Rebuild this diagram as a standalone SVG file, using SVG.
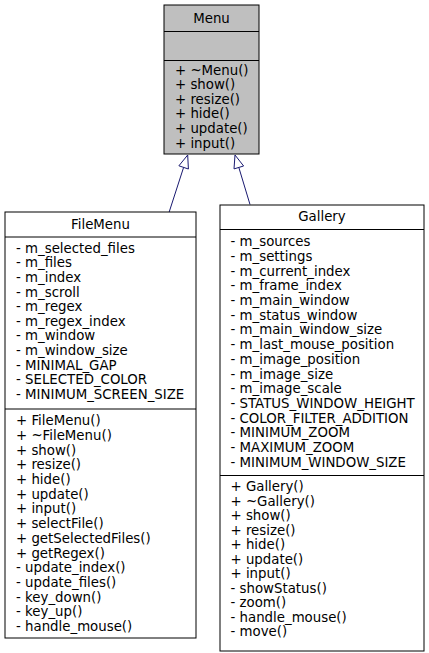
<svg xmlns="http://www.w3.org/2000/svg" width="429" height="653" viewBox="0 0 429 653">
<style>
.box{fill:#ffffff;stroke:#000000;stroke-width:1}
.base{fill:#bfbfbf}
.sep{stroke:#000000;stroke-width:1}
text{font-family:"DejaVu Sans","Liberation Sans",sans-serif;font-size:13.33px;fill:#000000}
.c{text-anchor:middle}
.edge{stroke:#191970;stroke-width:1;fill:none}
.head{stroke:#191970;stroke-width:1;fill:#ffffff}
</style>
<rect width="429" height="653" fill="#ffffff"/>
<g id="connectors">
<path class="edge" d="M169,212.5 L183.6,167.4"/>
<polygon class="head" points="187.7,155 188.4,169 178.9,165.8"/>
<path class="edge" d="M250,204.5 L238.8,167.4"/>
<polygon class="head" points="235,155 243.6,166 234,168.9"/>
</g>
<g id="Menu">
<rect class="box base" x="164" y="5" width="95" height="149"/>
<line class="sep" x1="164" y1="31.5" x2="259" y2="31.5"/>
<line class="sep" x1="164" y1="60.5" x2="259" y2="60.5"/>
<text class="c" x="211.5" y="23">Menu</text>
<text x="175" y="74.5">+ ~Menu()</text>
<text x="175" y="89.1">+ show()</text>
<text x="175" y="103.7">+ resize()</text>
<text x="175" y="118.3">+ hide()</text>
<text x="175" y="132.9">+ update()</text>
<text x="175" y="147.5">+ input()</text>
</g>
<g id="FileMenu">
<rect class="box" x="5" y="212" width="191" height="426"/>
<line class="sep" x1="5" y1="237" x2="196" y2="237"/>
<line class="sep" x1="5" y1="409" x2="196" y2="409"/>
<text class="c" x="100.5" y="229">FileMenu</text>
<text x="16" y="252.8">- m_selected_files</text>
<text x="16" y="267.4">- m_files</text>
<text x="16" y="282">- m_index</text>
<text x="16" y="296.6">- m_scroll</text>
<text x="16" y="311.2">- m_regex</text>
<text x="16" y="325.8">- m_regex_index</text>
<text x="16" y="340.4">- m_window</text>
<text x="16" y="355">- m_window_size</text>
<text x="16" y="369.6">- MINIMAL_GAP</text>
<text x="16" y="384.2">- SELECTED_COLOR</text>
<text x="16" y="398.8">- MINIMUM_SCREEN_SIZE</text>
<text x="16" y="425.2">+ FileMenu()</text>
<text x="16" y="439.9">+ ~FileMenu()</text>
<text x="16" y="454.6">+ show()</text>
<text x="16" y="469.3">+ resize()</text>
<text x="16" y="484">+ hide()</text>
<text x="16" y="498.7">+ update()</text>
<text x="16" y="513.4">+ input()</text>
<text x="16" y="528.1">+ selectFile()</text>
<text x="16" y="542.8">+ getSelectedFiles()</text>
<text x="16" y="557.5">+ getRegex()</text>
<text x="16" y="572.2">- update_index()</text>
<text x="16" y="586.9">- update_files()</text>
<text x="16" y="601.6">- key_down()</text>
<text x="16" y="616.3">- key_up()</text>
<text x="16" y="631">- handle_mouse()</text>
</g>
<g id="Gallery">
<rect class="box" x="220" y="205" width="204" height="446"/>
<line class="sep" x1="220" y1="229.5" x2="424" y2="229.5"/>
<line class="sep" x1="220" y1="475.5" x2="424" y2="475.5"/>
<text class="c" x="322" y="221">Gallery</text>
<text x="230.5" y="246.2">- m_sources</text>
<text x="230.5" y="260.9">- m_settings</text>
<text x="230.5" y="275.6">- m_current_index</text>
<text x="230.5" y="290.3">- m_frame_index</text>
<text x="230.5" y="305">- m_main_window</text>
<text x="230.5" y="319.7">- m_status_window</text>
<text x="230.5" y="334.4">- m_main_window_size</text>
<text x="230.5" y="349.1">- m_last_mouse_position</text>
<text x="230.5" y="363.8">- m_image_position</text>
<text x="230.5" y="378.5">- m_image_size</text>
<text x="230.5" y="393.2">- m_image_scale</text>
<text x="230.5" y="407.9">- STATUS_WINDOW_HEIGHT</text>
<text x="230.5" y="422.6">- COLOR_FILTER_ADDITION</text>
<text x="230.5" y="437.3">- MINIMUM_ZOOM</text>
<text x="230.5" y="452">- MAXIMUM_ZOOM</text>
<text x="230.5" y="466.7">- MINIMUM_WINDOW_SIZE</text>
<text x="230.5" y="491.2">+ Gallery()</text>
<text x="230.5" y="505.7">+ ~Gallery()</text>
<text x="230.5" y="520.2">+ show()</text>
<text x="230.5" y="534.7">+ resize()</text>
<text x="230.5" y="549.2">+ hide()</text>
<text x="230.5" y="563.7">+ update()</text>
<text x="230.5" y="578.2">+ input()</text>
<text x="230.5" y="592.7">- showStatus()</text>
<text x="230.5" y="607.2">- zoom()</text>
<text x="230.5" y="621.7">- handle_mouse()</text>
<text x="230.5" y="636.2">- move()</text>
</g>
</svg>
